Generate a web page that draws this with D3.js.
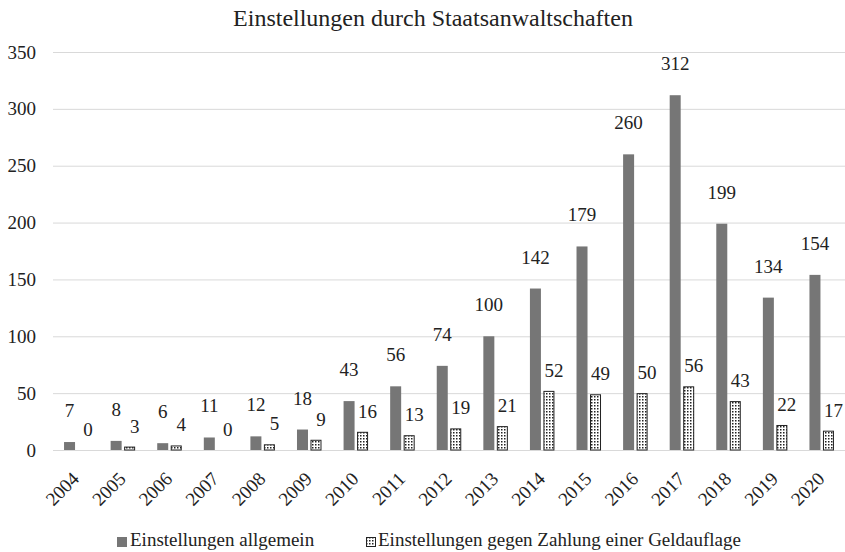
<!DOCTYPE html>
<html>
<head>
<meta charset="utf-8">
<script src="https://cdn.jsdelivr.net/npm/d3@7"></script>
<style>
  body { margin: 0; background: #fff; }
  svg { display: block; }
  svg text { font-family: "Liberation Serif", "Times New Roman", Times, serif; }
</style>
</head>
<body>
<svg id="chart" width="845" height="552"></svg>
<script>
// data //
const years = ['2004', '2005', '2006', '2007', '2008', '2009', '2010', '2011', '2012',
  '2013', '2014', '2015', '2016', '2017', '2018', '2019', '2020'];
const allgemein = [7, 8, 6, 11, 12, 18, 43, 56, 74, 100, 142, 179, 260, 312, 199, 134, 154];
const geldauflage = [0, 3, 4, 0, 5, 9, 16, 13, 19, 21, 52, 49, 50, 56, 43, 22, 17];
const yTicks = [0, 50, 100, 150, 200, 250, 300, 350];
const seriesNames = ['Einstellungen allgemein', 'Einstellungen gegen Zahlung einer Geldauflage'];
const title = 'Einstellungen durch Staatsanwaltschaften';

const width = 845;
const height = 552;
const margin = { top: 52, right: 0, bottom: 102, left: 53 };
const grey = '#767676';

const svg = d3.select('#chart');

// dotted fill for second series
const defs = svg.append('defs');
const pat = defs.append('pattern')
  .attr('id', 'dots')
  .attr('patternUnits', 'userSpaceOnUse')
  .attr('width', 3).attr('height', 3);
pat.append('rect').attr('width', 3).attr('height', 3).attr('fill', '#fff');
pat.append('rect').attr('width', 1.5).attr('height', 1.5).attr('fill', '#222');

const x = d3.scaleBand()
  .domain(years)
  .range([margin.left, width - margin.right]);

const y = d3.scaleLinear()
  .domain([0, 350])
  .range([height - margin.bottom, margin.top]);

const barW = 11;
const gap = 2.5;

// gridlines
svg.append('g')
  .selectAll('line')
  .data(yTicks)
  .join('line')
  .attr('x1', margin.left)
  .attr('x2', width - margin.right)
  .attr('y1', d => y(d) + 0.5)
  .attr('y2', d => y(d) + 0.5)
  .attr('stroke', '#d9d9d9')
  .attr('stroke-width', 1);

// y axis labels
const yAxis = svg.append('g')
  .attr('transform', `translate(${margin.left},0)`)
  .call(d3.axisLeft(y).tickValues(yTicks).tickSize(0).tickPadding(17));
yAxis.select('.domain').remove();
yAxis.selectAll('text')
  .attr('font-size', 19)
  .attr('fill', '#222');

// x axis labels
const xAxis = svg.append('g')
  .attr('transform', `translate(0,${height - margin.bottom})`)
  .call(d3.axisBottom(x).tickSize(0).tickPadding(0));
xAxis.select('.domain').remove();
xAxis.selectAll('text')
  .attr('font-size', 19)
  .attr('fill', '#222')
  .attr('text-anchor', 'end')
  .attr('dy', 0)
  .attr('transform', 'translate(4,30) rotate(-45)');

// bars
const cx = d => x(d) + x.bandwidth() / 2;

svg.append('g')
  .selectAll('rect')
  .data(years)
  .join('rect')
  .attr('x', (d) => cx(d) - gap / 2 - barW)
  .attr('y', (d, i) => y(allgemein[i]))
  .attr('width', barW)
  .attr('height', (d, i) => y(0) - y(allgemein[i]))
  .attr('fill', grey);

svg.append('g')
  .selectAll('rect')
  .data(years)
  .join('rect')
  .attr('x', (d) => cx(d) + gap / 2 + 0.5)
  .attr('y', (d, i) => y(geldauflage[i]) + 0.5)
  .attr('width', barW - 1)
  .attr('height', (d, i) => Math.max(0, y(0) - y(geldauflage[i]) - 0.5))
  .attr('fill', 'url(#dots)')
  .attr('stroke', '#222')
  .attr('stroke-width', 1)
  .style('display', (d, i) => geldauflage[i] === 0 ? 'none' : null);

// data labels
svg.append('g')
  .selectAll('text')
  .data(years)
  .join('text')
  .attr('x', d => cx(d) - gap / 2 - barW / 2)
  .attr('y', (d, i) => y(allgemein[i]) - 25)
  .attr('text-anchor', 'middle')
  .attr('font-size', 19)
  .attr('fill', '#222')
  .text((d, i) => allgemein[i]);

svg.append('g')
  .selectAll('text')
  .data(years)
  .join('text')
  .attr('x', d => cx(d) + gap / 2 + barW / 2 + 5)
  .attr('y', (d, i) => y(geldauflage[i]) - 14)
  .attr('text-anchor', 'middle')
  .attr('font-size', 19)
  .attr('fill', '#222')
  .text((d, i) => geldauflage[i]);

// title
svg.append('text')
  .attr('x', 433)
  .attr('y', 26)
  .attr('text-anchor', 'middle')
  .attr('font-size', 24)
  .attr('fill', '#222')
  .text(title);

// legend
const legend = svg.append('g');
legend.append('rect')
  .attr('x', 117).attr('y', 537)
  .attr('width', 10).attr('height', 10)
  .attr('fill', grey);
legend.append('text')
  .attr('x', 130).attr('y', 546)
  .attr('font-size', 19)
  .attr('fill', '#222')
  .text(seriesNames[0]);
legend.append('rect')
  .attr('x', 366.5).attr('y', 537.5)
  .attr('width', 9).attr('height', 9)
  .attr('fill', 'url(#dots)')
  .attr('stroke', '#222');
legend.append('text')
  .attr('x', 378).attr('y', 546)
  .attr('font-size', 19)
  .attr('fill', '#222')
  .text(seriesNames[1]);
</script>
</body>
</html>
